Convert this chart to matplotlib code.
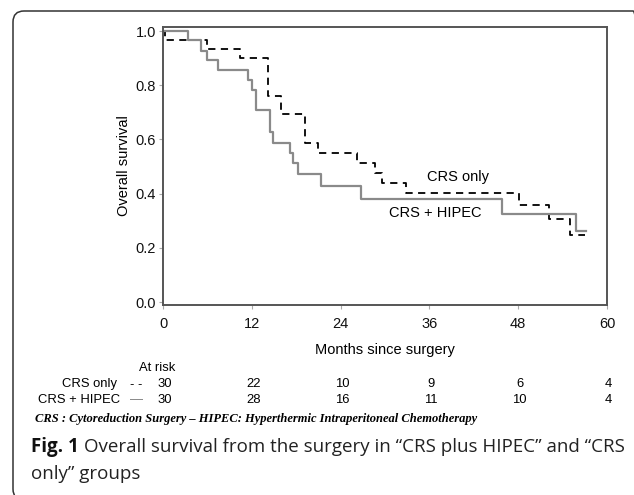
import matplotlib
matplotlib.use("Agg")
import matplotlib.pyplot as plt
from matplotlib.patches import FancyBboxPatch

# Kaplan-Meier curves (months, survival)
t_crs = [0, 0.3, 5.9, 10.4, 14.2, 16.0, 19.2, 21.0, 26.2, 28.7, 29.6, 32.8, 48.1, 52.2, 55.0, 57.0]
s_crs = [1.0, 0.967, 0.933, 0.900, 0.760, 0.693, 0.586, 0.549, 0.512, 0.475, 0.438, 0.401, 0.357, 0.307, 0.246, 0.246]

t_hipec = [0, 3.4, 5.1, 6.0, 7.4, 11.5, 12.0, 12.5, 14.5, 14.9, 17.2, 17.6, 18.3, 21.3, 26.8, 45.8, 55.8, 57.1]
s_hipec = [1.0, 0.967, 0.927, 0.893, 0.856, 0.819, 0.782, 0.708, 0.628, 0.588, 0.549, 0.512, 0.472, 0.429, 0.381, 0.326, 0.261, 0.261]

x_ticks = [0, 12, 24, 36, 48, 60]
y_ticks = [0.0, 0.2, 0.4, 0.6, 0.8, 1.0]
risk_crs = [30, 22, 10, 9, 6, 4]
risk_hipec = [30, 28, 16, 11, 10, 4]

W, H = 634, 495
plt.rcParams['font.family'] = ['Liberation Sans', 'DejaVu Sans']

fig = plt.figure(figsize=(W / 100, H / 100), dpi=100)

# frame round the figure panel (in inches, so the corners stay round)
box = FancyBboxPatch((0.13, (H - 500) / 100), (644 - 13) / 100, (500 - 11) / 100,
                     boxstyle="round,pad=0,rounding_size=0.11",
                     transform=fig.dpi_scale_trans, fill=False,
                     edgecolor="#333333", linewidth=1.1)
fig.patches.append(box)

ax = fig.add_axes([163 / W, 1 - 305 / H, (607 - 163) / W, (305 - 27) / H])

ax.step(t_crs, s_crs, where="post", color="black", linestyle=(0, (4, 3)), linewidth=1.3)
ax.step(t_hipec, s_hipec, where="post", color="#8a8a8a", linewidth=1.6)

ax.set_xlim(0, 60)
ax.set_ylim(-0.011, 1.015)
ax.set_xticks(x_ticks)
ax.set_yticks(y_ticks)
ax.set_yticklabels(["%.1f" % v for v in y_ticks])
ax.tick_params(labelsize=10.5, length=3, color="#aaaaaa", colors="#111111", pad=2)
ax.tick_params(axis="x", pad=6)
for sp in ax.spines.values():
    sp.set_color("#555555")
    sp.set_linewidth(1.4)

ax.set_xlabel("Months since surgery", fontsize=10.5, labelpad=8)
ax.set_ylabel("Overall survival", fontsize=10.5, labelpad=3)

ax.text(39.9, 0.46, "CRS only", fontsize=10.5, ha="center", va="center")
ax.text(36.8, 0.327, "CRS + HIPEC", fontsize=10.5, ha="center", va="center")

# number at risk table
tr = ax.get_xaxis_transform()
def fy(py):
    return (305 - py) / (305 - 27)

fs = 9.4
ax.text(1.6, fy(368), "At risk", transform=tr, fontsize=fs, ha="right", va="center", clip_on=False)
ax.text(-6.2, fy(384), "CRS only", transform=tr, fontsize=fs, ha="right", va="center", clip_on=False)
ax.text(-5.8, fy(400), "CRS + HIPEC", transform=tr, fontsize=fs, ha="right", va="center", clip_on=False)
ax.text(-3.6, fy(385), "- -", transform=tr, fontsize=fs, ha="center", va="center", clip_on=False)
ax.text(-3.6, fy(400), "\u2014", transform=tr, fontsize=fs, ha="center", va="center", clip_on=False, color="#777777")
for x, a, b in zip(x_ticks, risk_crs, risk_hipec):
    ax.text(x + 0.2, fy(384), str(a), transform=tr, fontsize=fs, ha="center", va="center", clip_on=False)
    ax.text(x + 0.2, fy(400), str(b), transform=tr, fontsize=fs, ha="center", va="center", clip_on=False)

fig.text(35 / W, 1 - 419 / H,
         "CRS : Cytoreduction Surgery \u2013 HIPEC: Hyperthermic Intraperitoneal Chemotherapy",
         family=["Liberation Serif", "DejaVu Serif"], style="italic", weight="bold",
         fontsize=9.0, va="center")

cap = ["Open Sans", "DejaVu Sans"]
fig.text(31 / W, 1 - 447 / H, "Fig. 1", family=cap,
         weight="bold", fontsize=13.5, va="center", color="#111111")
fig.text(84 / W, 1 - 447 / H,
         "Overall survival from the surgery in \u201cCRS plus HIPEC\u201d and \u201cCRS",
         family=cap, fontsize=13.5, va="center", color="#222222")
fig.text(31 / W, 1 - 474 / H, "only\u201d groups", family=cap,
         fontsize=13.5, va="center", color="#222222")

fig.savefig("out.png", dpi=100)
